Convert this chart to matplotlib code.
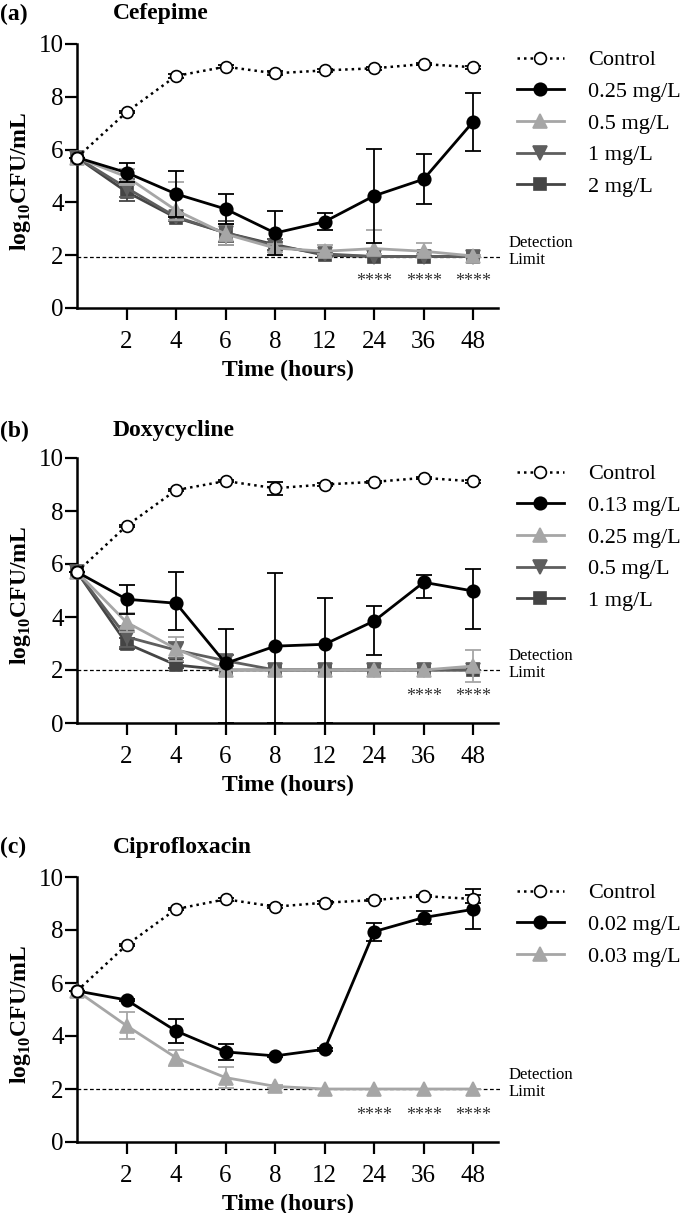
import matplotlib
matplotlib.use("Agg")
import matplotlib.pyplot as plt
import numpy as np

serif = ['Liberation Serif', 'TeX Gyre Termes', 'STIXGeneral', 'DejaVu Serif']
plt.rcParams['font.family'] = [f for f in serif
                               if f in {x.name for x in matplotlib.font_manager.fontManager.ttflist}]
plt.rcParams['mathtext.fontset'] = 'custom'
plt.rcParams['mathtext.rm'] = plt.rcParams['font.family'][0]
plt.rcParams['mathtext.bf'] = plt.rcParams['font.family'][0] + ':bold'

# time points (hours); drawn at evenly spaced positions
times = [0, 2, 4, 6, 8, 12, 24, 36, 48]
tick_labels = ['2', '4', '6', '8', '12', '24', '36', '48']

# (a) Cefepime
cef_labels = ['Control', '0.25 mg/L', '0.5 mg/L', '1 mg/L', '2 mg/L']
cef_ctrl = [5.70, 7.42, 8.79, 9.14, 8.89, 9.00, 9.08, 9.24, 9.12]
cef_ctrl_err = [0, 0.05, 0.08, 0.05, 0.08, 0.05, 0.05, 0.05, 0.05]
cef_025 = [5.70, 5.13, 4.32, 3.75, 2.84, 3.27, 4.25, 4.88, 7.06]
cef_025_err = [0, 0.37, 0.87, 0.57, 0.83, 0.32, 1.77, 0.95, 1.10]
cef_05 = [5.70, 4.97, 3.70, 2.80, 2.27, 2.15, 2.25, 2.15, 1.97]
cef_05_hi = [0, 0.30, 1.08, 0.40, 0.15, 0.25, 0.70, 0.30, 0.05]
cef_05_lo = [0, 0.30, 0.35, 0.40, 0.15, 0.10, 0.20, 0.10, 0.05]
cef_1 = [5.70, 4.55, 3.45, 2.85, 2.35, 2.05, 1.95, 1.95, 1.95]
cef_1_err = [0, 0.35, 0.15, 0.35, 0.15, 0.05, 0, 0, 0]
cef_2 = [5.70, 4.40, 3.42, 2.85, 2.40, 2.00, 1.95, 1.95, 1.95]
cef_2_err = [0, 0.35, 0.10, 0.45, 0.20, 0.05, 0, 0, 0]
cef_limit = 1.95
cef_stars = [24, 36, 48]

# (b) Doxycycline
dox_labels = ['Control', '0.13 mg/L', '0.25 mg/L', '0.5 mg/L', '1 mg/L']
dox_ctrl = [5.70, 7.44, 8.79, 9.13, 8.86, 9.00, 9.10, 9.25, 9.12]
dox_ctrl_err = [0, 0.05, 0.05, 0.05, 0.25, 0.05, 0.05, 0.05, 0.05]
dox_013 = [5.70, 4.67, 4.52, 2.25, 2.90, 2.97, 3.85, 5.31, 4.98]
dox_013_hi = [0, 0.54, 1.17, 1.28, 2.77, 1.73, 0.58, 0.27, 0.83]
dox_013_lo = [0, 0.54, 1.02, 2.25, 2.90, 2.97, 1.28, 0.58, 1.45]
dox_025 = [5.70, 3.80, 2.80, 2.00, 2.00, 2.00, 2.00, 2.00, 2.15]
dox_025_err = [0, 0.35, 0.45, 0, 0, 0, 0, 0, 0.60]
dox_05 = [5.70, 3.25, 2.75, 2.35, 2.00, 2.00, 2.00, 2.00, 2.00]
dox_05_err = [0, 0.40, 0.30, 0.20, 0, 0, 0, 0, 0]
dox_1 = [5.70, 3.00, 2.19, 2.00, 2.00, 2.00, 2.00, 2.00, 2.00]
dox_1_err = [0, 0.20, 0.10, 0, 0, 0, 0, 0, 0]
dox_limit = 2.0
dox_stars = [36, 48]

# (c) Ciprofloxacin
cip_labels = ['Control', '0.02 mg/L', '0.03 mg/L']
cip_ctrl = [5.70, 7.43, 8.79, 9.16, 8.88, 9.03, 9.13, 9.28, 9.17]
cip_ctrl_err = [0, 0.05, 0.05, 0.05, 0.05, 0.05, 0.05, 0.05, 0.15]
cip_002 = [5.70, 5.36, 4.19, 3.40, 3.25, 3.50, 7.94, 8.47, 8.78]
cip_002_err = [0, 0.05, 0.44, 0.30, 0.05, 0.05, 0.34, 0.25, 0.75]
cip_003 = [5.70, 4.39, 3.18, 2.43, 2.10, 2.00, 2.00, 2.00, 2.00]
cip_003_err = [0, 0.50, 0.30, 0.40, 0.05, 0, 0, 0, 0]
cip_limit = 2.0
cip_stars = [24, 36, 48]

# style per series slot: (marker, colour, face, linestyle, markersize, zorder)
styles = [
    ('o', 'black', 'white', (0, (1, 1.6)), 8.5, 7),
    ('o', 'black', 'black', '-', 9, 6),
    ('^', '#a6a6a6', '#a6a6a6', '-', 10, 5),
    ('v', '#5e5e5e', '#5e5e5e', '-', 10, 4),
    ('s', '#444444', '#444444', '-', 8.5, 3),
]

W, H = 680, 1213


def draw_panel(ax, series, labels, limit, stars):
    x = np.arange(len(times))
    handles = []
    for i, (vals, lo, hi) in enumerate(series):
        mk, col, face, ls, ms, z = styles[i]
        ax.errorbar(x, vals, yerr=[lo, hi], fmt='none', ecolor=col,
                    elinewidth=1.3, capsize=5.5, capthick=1.3,
                    zorder=z - 0.5, clip_on=False)
        ln, = ax.plot(x, vals, linestyle=ls, color=col, lw=2 if i else 1.8,
                      marker=mk, markersize=ms, markerfacecolor=face,
                      markeredgecolor=col, markeredgewidth=1.2,
                      zorder=z, clip_on=False, label=labels[i])
        handles.append(ln)

    ax.plot([0, 8.55], [limit, limit], ls=(0, (3, 2)), color='black',
            lw=0.9, clip_on=False, zorder=2)
    ax.text(1.025, limit + 0.2, 'Detection\nLimit', transform=ax.get_yaxis_transform(),
            ha='left', va='center', fontsize=12, linespacing=1.05)
    for s in stars:
        ax.text(times.index(s), 1.0, '****', ha='center', va='center',
                fontsize=13, color='#333333')

    ax.set_xlim(0, 8.5)
    ax.set_ylim(0, 10)
    ax.set_xticks(np.arange(1, 9))
    ax.set_xticklabels(tick_labels)
    ax.set_yticks([0, 2, 4, 6, 8, 10])
    ax.tick_params(axis='both', direction='out', length=8.5, width=1.6,
                   labelsize=18)
    ax.tick_params(axis='y', pad=1)
    ax.tick_params(axis='x', pad=8)
    for side in ['top', 'right']:
        ax.spines[side].set_visible(False)
    for side in ['left', 'bottom']:
        ax.spines[side].set_linewidth(1.8)

    ax.set_ylabel(r'log$_{\mathbf{10}}$CFU/mL', fontsize=17, fontweight='bold')
    ax.yaxis.set_label_coords(-0.105, 0.48)
    ax.set_xlabel('Time (hours)', fontsize=17, fontweight='bold', labelpad=5)

    ax.legend(handles=handles, loc='upper left', bbox_to_anchor=(1.045, 0.978),
              frameon=False, fontsize=16, handlelength=2.1, handletextpad=1.1,
              labelspacing=0.5, borderaxespad=0, borderpad=0, numpoints=1)


fig = plt.figure(figsize=(W / 100, H / 100), dpi=100)

panels = [
    ('(a)', 'Cefepime', 44, 308, [
        (cef_ctrl, cef_ctrl_err, cef_ctrl_err),
        (cef_025, cef_025_err, cef_025_err),
        (cef_05, cef_05_lo, cef_05_hi),
        (cef_1, cef_1_err, cef_1_err),
        (cef_2, cef_2_err, cef_2_err)], cef_labels, cef_limit, cef_stars, 14),
    ('(b)', 'Doxycycline', 458, 723, [
        (dox_ctrl, dox_ctrl_err, dox_ctrl_err),
        (dox_013, dox_013_lo, dox_013_hi),
        (dox_025, dox_025_err, dox_025_err),
        (dox_05, dox_05_err, dox_05_err),
        (dox_1, dox_1_err, dox_1_err)], dox_labels, dox_limit, dox_stars, 431),
    ('(c)', 'Ciprofloxacin', 877, 1142, [
        (cip_ctrl, cip_ctrl_err, cip_ctrl_err),
        (cip_002, cip_002_err, cip_002_err),
        (cip_003, cip_003_err, cip_003_err)], cip_labels, cip_limit, cip_stars, 847),
]

for tag, title, top, bottom, series, labels, limit, stars, ty in panels:
    ax = fig.add_axes([77 / W, 1 - bottom / H, (498 - 77) / W, (bottom - top) / H])
    draw_panel(ax, series, labels, limit, stars)
    fig.text(0 / W, 1 - ty / H, tag, fontsize=17, fontweight='bold',
             ha='left', va='center')
    fig.text(113 / W, 1 - ty / H, title, fontsize=17, fontweight='bold',
             ha='left', va='center')

fig.savefig('out.png', dpi=100)
